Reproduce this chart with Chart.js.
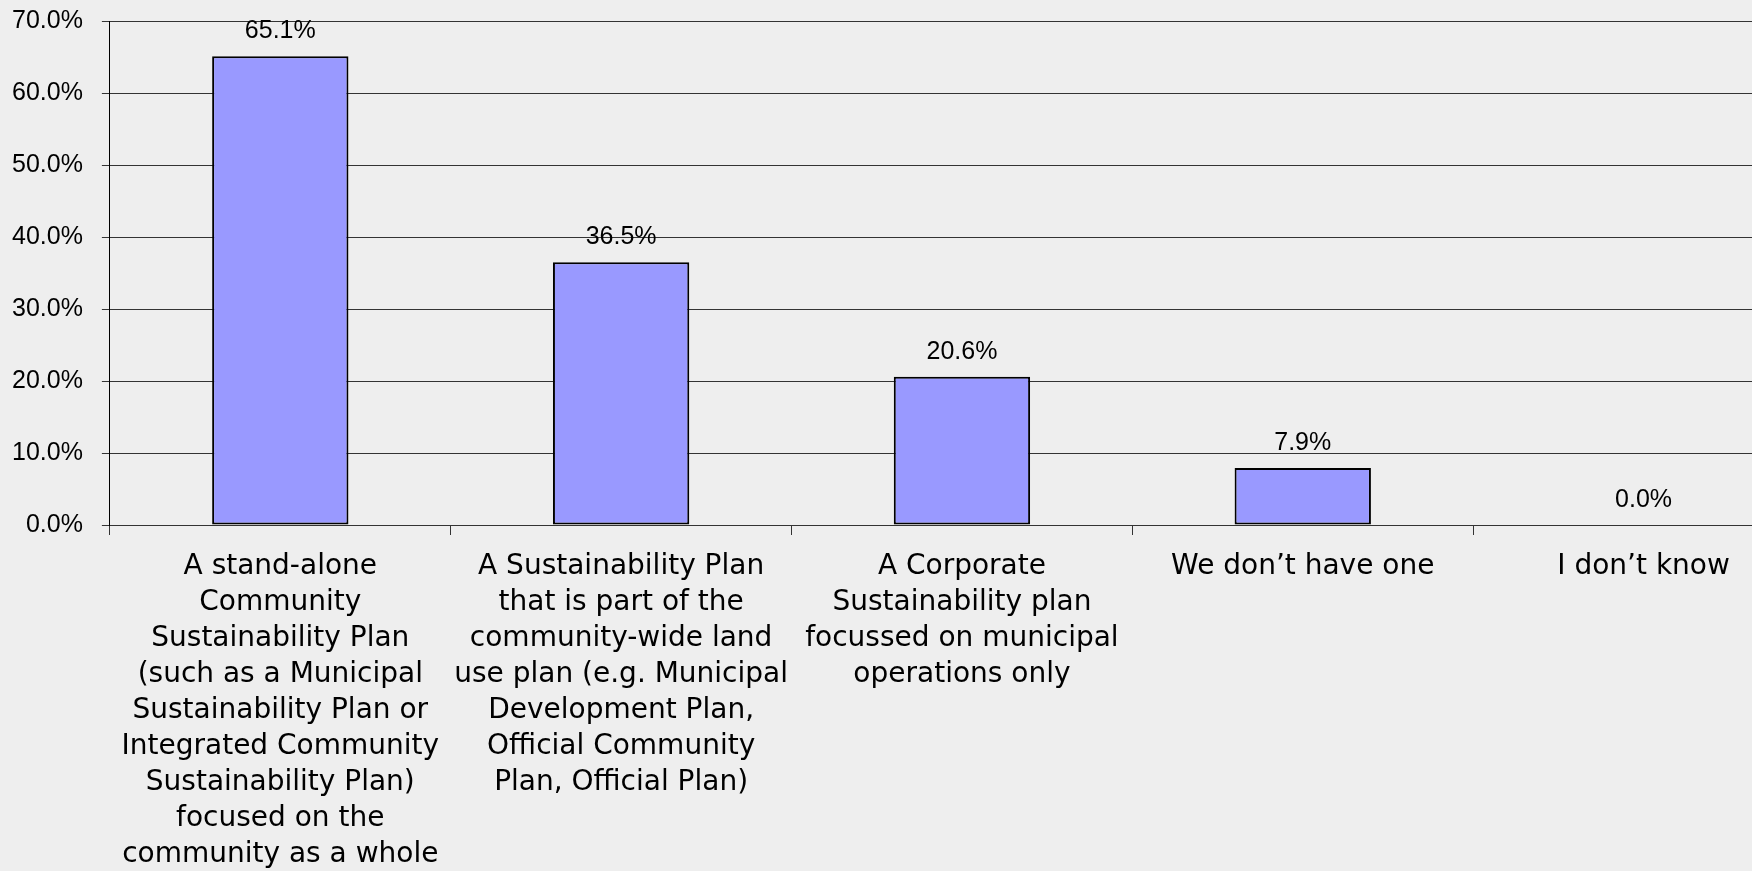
<!DOCTYPE html>
<html>
<head>
<meta charset="utf-8">
<script src="https://cdn.jsdelivr.net/npm/chart.js@4.4.1/dist/chart.umd.min.js"></script>
<style>
  html, body { margin: 0; padding: 0; background: #eeeeee; overflow: hidden; }
  #wrap { width: 1823px; height: 900px; position: absolute; left: -7px; top: -13px; }
</style>
</head>
<body>
<div id="wrap"><canvas id="planChart"></canvas></div>
<script>
// survey answers, percent of respondents
const categories = [
  ['A stand-alone', 'Community', 'Sustainability Plan', '(such as a Municipal', 'Sustainability Plan or',
   'Integrated Community', 'Sustainability Plan)', 'focused on the', 'community as a whole'],
  ['A Sustainability Plan', 'that is part of the', 'community-wide land', 'use plan (e.g. Municipal',
   'Development Plan,', 'Official Community', 'Plan, Official Plan)'],
  ['A Corporate', 'Sustainability plan', 'focussed on municipal', 'operations only'],
  ['We don\u2019t have one'],
  ['I don\u2019t know']
];
const percents = [65.1, 36.5, 20.6, 7.9, 0.0];
const yTicks = [0, 10, 20, 30, 40, 50, 60, 70];

// value labels over the bars
const barValues = {
  id: 'barValues',
  afterDatasetsDraw(chart) {
    const ctx = chart.ctx;
    const meta = chart.getDatasetMeta(0);
    ctx.save();
    ctx.font = '25px "Liberation Sans", Arial, sans-serif';
    ctx.fillStyle = '#000';
    ctx.textAlign = 'center';
    ctx.textBaseline = 'alphabetic';
    meta.data.forEach(function (bar, i) {
      ctx.fillText(percents[i].toFixed(1) + '%', bar.x, bar.y - 18);
    });
    ctx.restore();
  }
};

const ctx = document.getElementById('planChart').getContext('2d');

const config = {
  type: 'bar',
  data: {
    labels: categories,
    datasets: [
      {
        data: percents,
        backgroundColor: '#9999ff',
        borderColor: '#000',
        borderWidth: 2,
        borderSkipped: false,
        categoryPercentage: 1,
        barPercentage: 0.4
      }
    ]
  },
  options: {
    responsive: true,
    maintainAspectRatio: false,
    animation: false,
    layout: {
      padding: { top: 0, left: 0, right: 2, bottom: 0 }
    },
    plugins: {
      legend: { display: false },
      tooltip: { enabled: false }
    },
    scales: {
      x: {
        offset: true,
        grid: {
          offset: true,
          drawOnChartArea: false,
          tickLength: 10,
          color: '#333'
        },
        border: { color: '#333' },
        ticks: {
          autoSkip: false,
          maxRotation: 0,
          padding: 14,
          color: '#000',
          font: { family: '"DejaVu Sans", sans-serif', size: 28, lineHeight: '36px' }
        }
      },
      y: {
        min: 0,
        max: 70,
        afterBuildTicks: function (scale) {
          scale.ticks = yTicks.map(function (v) { return { value: v }; });
        },
        grid: {
          color: '#333',
          tickLength: 8
        },
        border: { color: '#000' },
        ticks: {
          padding: 19,
          color: '#000',
          font: { family: '"Liberation Sans", Arial, sans-serif', size: 25 },
          callback: function (v) { return v.toFixed(1) + '%'; }
        }
      }
    }
  },
  plugins: [barValues]
};

const planChart = new Chart(ctx, config);
</script>
</body>
</html>
